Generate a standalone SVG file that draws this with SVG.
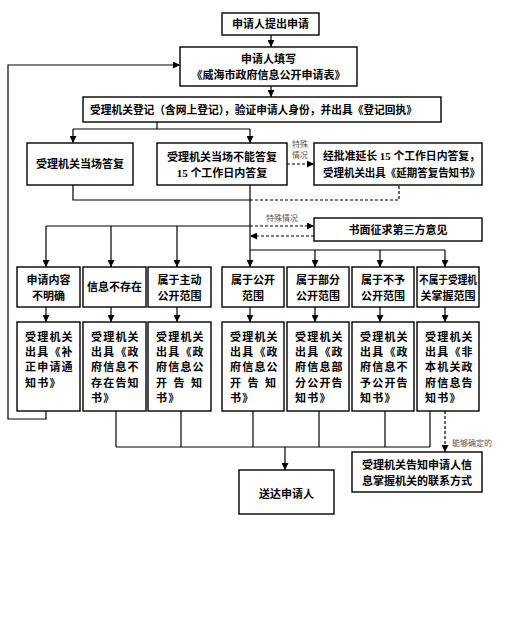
<svg xmlns="http://www.w3.org/2000/svg" width="509" height="617" viewBox="0 0 509 617">
<defs>
<marker id="ah" viewBox="0 0 10 10" refX="10" refY="5" markerWidth="7" markerHeight="7" markerUnits="userSpaceOnUse" orient="auto">
<path d="M0,0 L10,5 L0,10 z" fill="#000"/>
</marker>
</defs>
<style>
rect{fill:#fff;stroke:#000;stroke-width:1.4}
.c path,.c line,.c polyline{fill:none;stroke:#000;stroke-width:1.2}
.c .d{stroke-dasharray:3,2}
text{font-family:"Liberation Serif","Noto Sans CJK SC",serif;font-weight:bold;font-size:11px;fill:#000}
.m{text-anchor:middle}
.r2{font-size:11px;letter-spacing:1.2px}
.s{font-size:8px;font-weight:normal;fill:#555}
</style>
<rect x="0" y="0" width="509" height="617" style="fill:#fff;stroke:none"/>

<g class="c" id="connectors">
<line x1="271" y1="35" x2="271" y2="47" marker-end="url(#ah)"/>
<line x1="271" y1="86" x2="271" y2="97" marker-end="url(#ah)"/>
<polyline points="46,411 46,419 8,419 8,65 180,65" marker-end="url(#ah)"/>
<line x1="157" y1="122" x2="157" y2="129"/>
<line x1="73" y1="129" x2="250" y2="129"/>
<line x1="73" y1="129" x2="73" y2="143" marker-end="url(#ah)"/>
<line x1="250" y1="129" x2="250" y2="143" marker-end="url(#ah)"/>
<line class="d" x1="287" y1="164" x2="314" y2="164" marker-end="url(#ah)"/>
<polyline points="73,185 73,200 250,200"/>
<polyline class="d" points="250,200 399,200 399,185"/>
<line x1="250" y1="185" x2="250" y2="267" marker-end="url(#ah)"/>
<line x1="46" y1="226" x2="250" y2="226"/>
<line x1="46" y1="226" x2="46" y2="267" marker-end="url(#ah)"/>
<line x1="111" y1="226" x2="111" y2="267" marker-end="url(#ah)"/>
<line x1="177" y1="226" x2="177" y2="267" marker-end="url(#ah)"/>
<line class="d" x1="250" y1="226" x2="314" y2="226" marker-end="url(#ah)"/>
<line class="d" x1="314" y1="236" x2="250" y2="236" marker-end="url(#ah)"/>
<line x1="250" y1="250" x2="445" y2="250"/>
<line x1="315" y1="250" x2="315" y2="267" marker-end="url(#ah)"/>
<line x1="380" y1="250" x2="380" y2="267" marker-end="url(#ah)"/>
<line x1="445" y1="250" x2="445" y2="267" marker-end="url(#ah)"/>
<line x1="46" y1="307" x2="46" y2="322" marker-end="url(#ah)"/>
<line x1="111" y1="307" x2="111" y2="322" marker-end="url(#ah)"/>
<line x1="177" y1="307" x2="177" y2="322" marker-end="url(#ah)"/>
<line x1="250" y1="307" x2="250" y2="322" marker-end="url(#ah)"/>
<line x1="315" y1="307" x2="315" y2="322" marker-end="url(#ah)"/>
<line x1="380" y1="307" x2="380" y2="322" marker-end="url(#ah)"/>
<line x1="445" y1="307" x2="445" y2="322" marker-end="url(#ah)"/>
<line x1="116" y1="411" x2="116" y2="447"/>
<line x1="181" y1="411" x2="181" y2="447"/>
<line x1="253" y1="411" x2="253" y2="447"/>
<line x1="319" y1="411" x2="319" y2="447"/>
<line x1="385" y1="411" x2="385" y2="447"/>
<line x1="430" y1="411" x2="430" y2="447"/>
<line x1="116" y1="447" x2="430" y2="447"/>
<line x1="285" y1="447" x2="285" y2="470" marker-end="url(#ah)"/>
<line class="d" x1="445" y1="411" x2="445" y2="452" marker-end="url(#ah)"/>
<text class="s m" x="300" y="147">特殊</text>
<text class="s m" x="300" y="158">情况</text>
<text class="s m" x="282" y="221">特殊情况</text>
<text class="s" x="452" y="446">能够确定的</text>
</g>

<g id="n1"><rect x="222" y="13" width="97" height="22"/><text class="m" x="270.5" y="28">申请人提出申请</text></g>
<g id="n2"><rect x="180" y="47" width="177" height="39"/>
<text class="m" x="268.5" y="63">申请人填写</text>
<text class="m" x="268.5" y="79">《威海市政府信息公开申请表》</text></g>
<g id="n3"><rect x="83" y="97" width="358" height="25"/>
<text x="90" y="114" textLength="327" lengthAdjust="spacingAndGlyphs">受理机关登记（含网上登记），验证申请人身份，并出具《登记回执》</text></g>
<g id="n4"><rect x="27" y="143" width="106" height="42"/><text class="m" x="80" y="168">受理机关当场答复</text></g>
<g id="n5"><rect x="157" y="143" width="130" height="42"/>
<text class="m" x="222" y="161">受理机关当场不能答复</text>
<text class="m" x="222" y="177">15 个工作日内答复</text></g>
<g id="n6"><rect x="314" y="143" width="168" height="42"/>
<text x="323" y="160" textLength="157" lengthAdjust="spacingAndGlyphs">经批准延长 15 个工作日内答复，</text>
<text x="323" y="177" textLength="157" lengthAdjust="spacingAndGlyphs">受理机关出具《延期答复告知书》</text></g>
<g id="n7"><rect x="314" y="218" width="168" height="23"/><text class="m" x="398" y="234">书面征求第三方意见</text></g>

<g id="a1"><rect x="17" y="267" width="63" height="40"/><text class="m" x="48.5" y="284">申请内容</text><text class="m" x="48.5" y="300">不明确</text></g>
<g id="a2"><rect x="83" y="267" width="63" height="40"/><text class="m" x="114.5" y="291">信息不存在</text></g>
<g id="a3"><rect x="148" y="267" width="63" height="40"/><text class="m" x="179.5" y="284">属于主动</text><text class="m" x="179.5" y="300">公开范围</text></g>
<g id="a4"><rect x="222" y="267" width="62" height="40"/><text class="m" x="253" y="284">属于公开</text><text class="m" x="253" y="300">范围</text></g>
<g id="a5"><rect x="287" y="267" width="62" height="40"/><text class="m" x="318" y="284">属于部分</text><text class="m" x="318" y="300">公开范围</text></g>
<g id="a6"><rect x="352" y="267" width="62" height="40"/><text class="m" x="383" y="284">属于不予</text><text class="m" x="383" y="300">公开范围</text></g>
<g id="a7"><rect x="417" y="267" width="62" height="40"/><text x="419" y="284" textLength="58" lengthAdjust="spacingAndGlyphs">不属于受理机</text><text class="m" x="448" y="300">关掌握范围</text></g>

<g id="b1"><rect x="17" y="322" width="63" height="89"/>
<text class="r2" x="25" y="341">受理机关</text><text class="r2" x="25" y="356">出具《补</text><text class="r2" x="25" y="371">正申请通</text><text class="r2" x="25" y="387">知书》</text></g>
<g id="b2"><rect x="83" y="322" width="63" height="89"/>
<text class="r2" x="91" y="341">受理机关</text><text class="r2" x="91" y="356">出具《政</text><text class="r2" x="91" y="371">府信息不</text><text class="r2" x="91" y="387">存在告知</text><text class="r2" x="91" y="402">书》</text></g>
<g id="b3"><rect x="148" y="322" width="63" height="89"/>
<text class="r2" x="156" y="341">受理机关</text><text class="r2" x="156" y="356">出具《政</text><text class="r2" x="156" y="371">府信息公</text><text x="156" y="387" textLength="46" lengthAdjust="spacing">开 告 知</text><text class="r2" x="156" y="402">书》</text></g>
<g id="b4"><rect x="222" y="322" width="62" height="89"/>
<text class="r2" x="230" y="341">受理机关</text><text class="r2" x="230" y="356">出具《政</text><text class="r2" x="230" y="371">府信息公</text><text x="230" y="387" textLength="46" lengthAdjust="spacing">开 告 知</text><text class="r2" x="230" y="402">书》</text></g>
<g id="b5"><rect x="287" y="322" width="62" height="89"/>
<text class="r2" x="295" y="341">受理机关</text><text class="r2" x="295" y="356">出具《政</text><text class="r2" x="295" y="371">府信息部</text><text class="r2" x="295" y="387">分公开告</text><text class="r2" x="295" y="402">知书》</text></g>
<g id="b6"><rect x="352" y="322" width="62" height="89"/>
<text class="r2" x="360" y="341">受理机关</text><text class="r2" x="360" y="356">出具《政</text><text class="r2" x="360" y="371">府信息不</text><text class="r2" x="360" y="387">予公开告</text><text class="r2" x="360" y="402">知书》</text></g>
<g id="b7"><rect x="417" y="322" width="62" height="89"/>
<text class="r2" x="425" y="341">受理机关</text><text class="r2" x="425" y="356">出具《非</text><text class="r2" x="425" y="371">本机关政</text><text class="r2" x="425" y="387">府信息告</text><text class="r2" x="425" y="402">知书》</text></g>

<g id="end"><rect x="239" y="470" width="95" height="44"/><text class="m" x="286.5" y="498">送达申请人</text></g>
<g id="info"><rect x="352" y="452" width="130" height="40"/>
<text class="m" x="417" y="469">受理机关告知申请人信</text>
<text class="m" x="417" y="485">息掌握机关的联系方式</text></g>
</svg>
